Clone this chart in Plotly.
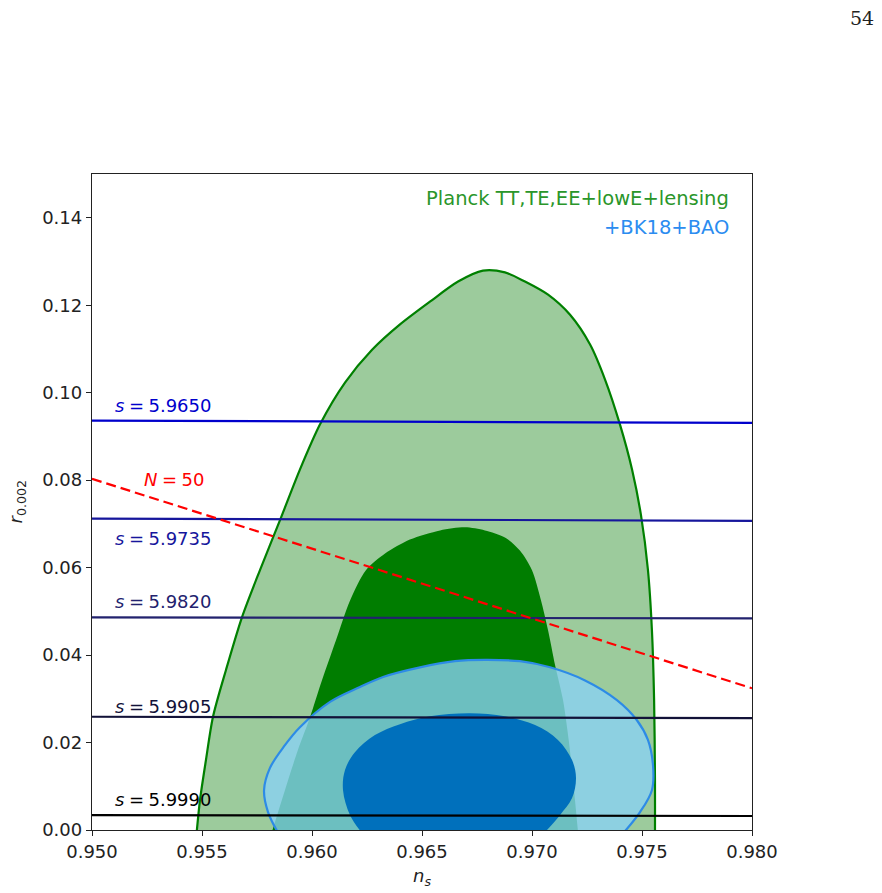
import plotly.graph_objects as go

# ---------------- data ----------------
# Planck TT,TE,EE+lowE+lensing, 95% contour (ns, r)
planck95_ns = [0.95473, 0.95491, 0.95518, 0.95550, 0.95609, 0.95682, 0.95764, 0.95855,
               0.95945, 0.96036, 0.96150, 0.96273, 0.96400, 0.96536, 0.96664, 0.96777,
               0.96877, 0.96968, 0.97073, 0.97173, 0.97264, 0.97332, 0.97400, 0.97455,
               0.97495, 0.97527, 0.97545, 0.97555, 0.97559, 0.97559, 0.97559, 0.95473]
planck95_r = [-0.002, 0.0069, 0.0160, 0.0259, 0.0366, 0.0487, 0.0595, 0.0709,
              0.0824, 0.0927, 0.1023, 0.1098, 0.1156, 0.1208, 0.1254, 0.1279,
              0.1275, 0.1254, 0.1224, 0.1178, 0.1110, 0.1030, 0.0927, 0.0824,
              0.0721, 0.0595, 0.0458, 0.0297, 0.0114, -0.002, -0.005, -0.005]

# Planck 68% contour
planck68_ns = [0.95808, 0.95877, 0.95936, 0.95991, 0.96045, 0.96109, 0.96173, 0.96245,
               0.96332, 0.96445, 0.96582, 0.96695, 0.96786, 0.96877, 0.96945, 0.97000,
               0.97041, 0.97073, 0.97105, 0.97141, 0.97168, 0.97191, 0.97212]
planck68_r = [-0.002, 0.0091, 0.0183, 0.0258, 0.0342, 0.0434, 0.0525, 0.0594,
              0.0632, 0.0664, 0.0685, 0.0692, 0.0685, 0.0669, 0.0639, 0.0594,
              0.0525, 0.0457, 0.0377, 0.0297, 0.0201, 0.0091, -0.002]

# +BK18+BAO, 95% contour
bk95_ns = [0.95850, 0.95800, 0.95782, 0.95809, 0.95877, 0.95945, 0.96082, 0.96218,
           0.96323, 0.96491, 0.96650, 0.96786, 0.96945, 0.97082, 0.97241, 0.97386,
           0.97477, 0.97527, 0.97550, 0.97545, 0.97491, 0.97410]
bk95_r = [-0.001, 0.0041, 0.0091, 0.0142, 0.0194, 0.0235, 0.0293, 0.0327,
          0.0350, 0.0372, 0.0386, 0.0389, 0.0386, 0.0372, 0.0342, 0.0297,
          0.0251, 0.0206, 0.0148, 0.0091, 0.0041, -0.001]

# +BK18+BAO, 68% contour
bk68_ns = [0.96232, 0.96173, 0.96141, 0.96150, 0.96195, 0.96286, 0.96400, 0.96536,
           0.96718, 0.96877, 0.97014, 0.97118, 0.97182, 0.97200, 0.97182, 0.97127, 0.97050]
bk68_r = [-0.001, 0.0034, 0.0091, 0.0137, 0.0178, 0.0217, 0.0242, 0.0260,
          0.0267, 0.0260, 0.0240, 0.0206, 0.0160, 0.0119, 0.0073, 0.0034, -0.001]

# constant-s lines: value, r at ns=0.950 and r at ns=0.980, label position
s_values = ["5.9650", "5.9735", "5.9820", "5.9905", "5.9990"]
s_r_left = [0.0936, 0.0712, 0.0486, 0.0259, 0.0034]
s_r_right = [0.0931, 0.0707, 0.0484, 0.0256, 0.0032]
s_label_r = [0.0970, 0.0667, 0.0522, 0.0282, 0.0070]
s_colors = ["#0000cc", "#16169c", "#22226e", "#121238", "#000000"]

# N = 50 line
n50_ns = [0.950, 0.980]
n50_r = [0.0803, 0.0324]

x_ticks = [0.950, 0.955, 0.960, 0.965, 0.970, 0.975, 0.980]
y_ticks = [0.00, 0.02, 0.04, 0.06, 0.08, 0.10, 0.12, 0.14]

FONT = "DejaVu Sans"
fig = go.Figure()

# Planck contours
fig.add_trace(go.Scatter(x=planck95_ns, y=planck95_r, mode="lines", fill="toself",
                         fillcolor="#9ccb9c",
                         line=dict(color="#008000", width=2.2, shape="spline", smoothing=0.8),
                         hoverinfo="skip", showlegend=False))
fig.add_trace(go.Scatter(x=planck68_ns, y=planck68_r, mode="lines", fill="toself",
                         fillcolor="#007d00",
                         line=dict(color="#007d00", width=0, shape="spline", smoothing=0.8),
                         hoverinfo="skip", showlegend=False))
# BK18 contours
fig.add_trace(go.Scatter(x=bk95_ns, y=bk95_r, mode="lines", fill="toself",
                         fillcolor="rgba(137,209,243,0.79)",
                         line=dict(color="#2d8be6", width=2.2, shape="spline", smoothing=1.0),
                         hoverinfo="skip", showlegend=False))
fig.add_trace(go.Scatter(x=bk68_ns, y=bk68_r, mode="lines", fill="toself",
                         fillcolor="#0070bc",
                         line=dict(color="#0070bc", width=0, shape="spline", smoothing=1.0),
                         hoverinfo="skip", showlegend=False))

# constant s lines
for val, rl, rr, lr, col in zip(s_values, s_r_left, s_r_right, s_label_r, s_colors):
    fig.add_trace(go.Scatter(x=[0.950, 0.980], y=[rl, rr], mode="lines",
                             line=dict(color=col, width=2.2),
                             hoverinfo="skip", showlegend=False))
    fig.add_annotation(x=0.95095, y=lr, xref="x", yref="y",
                       text="<i>s</i>\u2005=\u20055.%s" % val.split(".")[1],
                       showarrow=False, xanchor="left", yanchor="middle",
                       font=dict(family=FONT, size=18, color=col))

# N = 50 dashed line
fig.add_trace(go.Scatter(x=n50_ns, y=n50_r, mode="lines",
                         line=dict(color="#ff0000", width=2.2, dash="10px,5px"),
                         hoverinfo="skip", showlegend=False))
fig.add_annotation(x=0.95227, y=0.0801, xref="x", yref="y",
                   text="<i>N</i>\u2005=\u200550", showarrow=False,
                   xanchor="left", yanchor="middle",
                   font=dict(family=FONT, size=18, color="#ff0000"))

# legend-like texts
fig.add_annotation(x=0.968, y=0.962, xref="paper", yref="paper",
                   text="Planck TT,TE,EE+lowE+lensing", showarrow=False,
                   xanchor="right", yanchor="middle",
                   font=dict(family=FONT, size=19.5, color="#2a962a"))
fig.add_annotation(x=0.968, y=0.918, xref="paper", yref="paper",
                   text="+BK18+BAO", showarrow=False,
                   xanchor="right", yanchor="middle",
                   font=dict(family=FONT, size=19.5, color="#2b8cf0"))

# axis titles
fig.add_annotation(x=0.5, y=-0.072, xref="paper", yref="paper",
                   text="<i>n</i><sub><i>s</i></sub>", showarrow=False,
                   xanchor="center", yanchor="middle",
                   font=dict(family=FONT, size=18, color="#222222"))
fig.add_annotation(x=-0.113, y=0.50, xref="paper", yref="paper",
                   text="<i>r</i><sub>0.002</sub>", showarrow=False, textangle=-90,
                   xanchor="center", yanchor="middle",
                   font=dict(family=FONT, size=18, color="#222222"))

# page number
fig.add_annotation(x=1.1667, y=1.238, xref="paper", yref="paper", text="54",
                   showarrow=False, xanchor="center", yanchor="middle",
                   font=dict(family="DejaVu Serif", size=19, color="#222222"))

axis_common = dict(showline=True, linecolor="#222222", linewidth=1.3, mirror=True,
                   ticks="outside", ticklen=5, tickwidth=1.2, tickcolor="#222222",
                   showgrid=False, zeroline=False,
                   tickfont=dict(family=FONT, size=18, color="#222222"))

fig.update_layout(
    width=882, height=893,
    margin=dict(l=92, r=130, t=174, b=63),
    paper_bgcolor="white", plot_bgcolor="white",
    xaxis=dict(range=[0.950, 0.980], tickvals=x_ticks,
               ticktext=["%.3f" % v for v in x_ticks], **axis_common),
    yaxis=dict(range=[0.0, 0.15], tickvals=y_ticks,
               ticktext=["%.2f" % v for v in y_ticks], **axis_common),
)

fig.write_html("out.html")
